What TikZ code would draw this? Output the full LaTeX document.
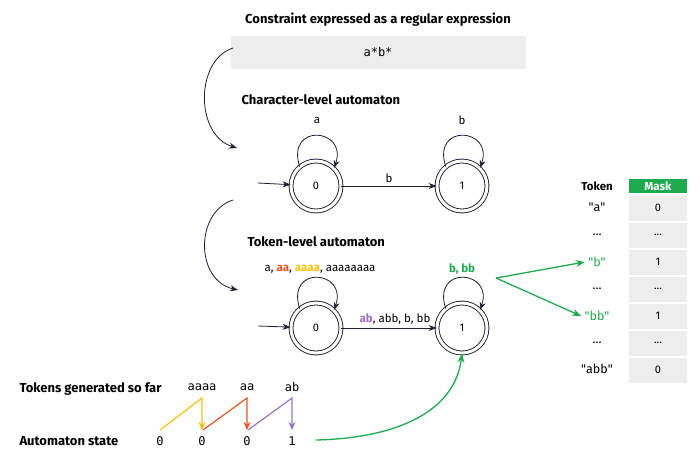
\documentclass[tikz,border=0pt]{standalone}
\usepackage{fontspec}
\setmainfont{Fira Sans}
\newfontfamily\monof{DejaVu Sans Mono}
\usetikzlibrary{arrows.meta}
\definecolor{gr}{HTML}{1EAA4E}
\definecolor{yl}{HTML}{F9C20A}
\definecolor{orn}{HTML}{F4511E}
\definecolor{pu}{HTML}{9575CD}
\definecolor{ink}{HTML}{1E1E32}
\definecolor{cellg}{HTML}{EDEDED}
\newcommand{\qq}[1]{\textquotedbl#1\textquotedbl}
\begin{document}
\begin{tikzpicture}[x=1pt,y=-1pt,
  ttl/.style={font=\bfseries\fontsize{13}{15}\selectfont,anchor=west,text=black},
  st/.style={circle,draw=ink,double=white,double distance=3pt,minimum size=50pt,inner sep=0pt,font=\fontsize{11}{13}\selectfont,line width=0.9pt},
  ar/.style={-{Stealth[length=8pt,width=6pt]},draw=ink,line width=0.8pt},
  lab/.style={font=\fontsize{11.5}{13}\selectfont},
  mono/.style={font=\monof\fontsize{12}{14}\selectfont},
  cell/.style={fill=cellg,minimum width=58pt,minimum height=25pt,inner sep=0pt,font=\fontsize{11}{13}\selectfont},
  tok/.style={font=\fontsize{12.5}{14}\selectfont},
  garr/.style={-{Stealth[length=9pt,width=7pt]},draw=gr,line width=1.3pt},
  loop/.style={ar,to path={.. controls +(-14,-44) and +(14,-40) .. (\tikztotarget)}}]
\useasboundingbox (0,0) rectangle (700,456);
\node[ttl,anchor=center] (t1) at (378,20) {Constraint expressed as a regular expression};
\node[fill=cellg,minimum width=295pt,minimum height=33pt,inner sep=0pt,mono] (re) at (378,52) {a*b*};
\node[ttl] (t2) at (238,100) {Character-level automaton};
\node[st] (c0) at (316,186) {0};
\node[st] (c1) at (462,186) {1};
\coordinate (cin) at (258,183);
\draw[ar] (cin) -- (c0);
\draw[ar] (c0) -- node[lab,above]{b} (c1);
\draw[loop] (c0.130) to (c0.45);
\draw[loop] (c1.130) to (c1.45);
\node[lab] (la) at (317,120) {a};
\node[lab] (lb) at (462,120) {b};
\coordinate (r1) at (233,48);
\coordinate (r2) at (237,148);
\draw[ar] (r1) .. controls (195,60) and (195,135) .. (r2);
\node[ttl] (t3) at (244,242) {Token-level automaton};
\coordinate (r3) at (233,200);
\coordinate (r4) at (238,290);
\draw[ar] (r3) .. controls (195,212) and (195,280) .. (r4);
\node[st] (k0) at (316,328) {0};
\node[st] (k1) at (462,328) {1};
\coordinate (kin) at (258,326);
\draw[ar] (kin) -- (k0);
\draw[ar] (k0) -- node[lab,above,xshift=6pt]{\textcolor{pu}{\bfseries ab}, abb, b, bb} (k1);
\draw[loop] (k0.130) to (k0.45);
\draw[loop] (k1.130) to (k1.45);
\node[lab] (lk0) at (320,269) {a, \textcolor{orn}{\bfseries aa}, \textcolor{yl}{\bfseries aaaa}, aaaaaaaa};
\node[lab,text=gr,font=\bfseries\fontsize{11.5}{13}\selectfont] (lk1) at (462,269) {b, bb};
% table
\node[font=\bfseries\fontsize{11.5}{13}\selectfont] (th) at (597,186) {Token};
\node[fill=gr,text=white,minimum width=58pt,minimum height=14pt,inner sep=0pt,font=\bfseries\fontsize{11.5}{13}\selectfont] (mh) at (658,186) {Mask};
\node[tok] (ta) at (597,207) {\qq{a}};
\node[cell] (ma) at (658,208) {0};
\node[tok] (td1) at (597,235) {...};
\node[cell] (md1) at (658,235) {...};
\node[tok,text=gr] (tb) at (597,262) {\qq{b}};
\node[cell] (mb) at (658,262) {1};
\node[tok] (td2) at (597,289) {...};
\node[cell] (md2) at (658,289) {...};
\node[tok,text=gr] (tbb) at (597,316) {\qq{bb}};
\node[cell] (mbb) at (658,316) {1};
\node[tok] (td3) at (597,343) {...};
\node[cell] (md3) at (658,343) {...};
\node[tok] (tabb) at (597,369) {\qq{abb}};
\node[cell] (mabb) at (658,370) {0};
\coordinate (gs) at (496,278);
\draw[garr] (gs) -- (tb.west);
\draw[garr] (gs) -- (tbb.west);
% bottom
\node[ttl] (t4) at (16,389) {Tokens generated so far};
\node[ttl] (t5) at (16,441) {Automaton state};
\node[mono] (w1) at (202,387) {aaaa};
\node[mono] (w2) at (247,387) {aa};
\node[mono] (w3) at (292,387) {ab};
\node[mono] (s0) at (160,441) {0};
\node[mono] (s1) at (202,441) {0};
\node[mono] (s2) at (247,441) {0};
\node[mono] (s3) at (292,441) {1};
\draw[yl,line width=1.2pt,-{Stealth[length=8pt,width=7pt]}] (160,430) -- (202,398) -- (202,430);
\draw[orn,line width=1.2pt,-{Stealth[length=8pt,width=7pt]}] (203,430) -- (247,398) -- (247,430);
\draw[pu,line width=1.2pt,-{Stealth[length=8pt,width=7pt]}] (248,430) -- (292,398) -- (292,430);
\coordinate (gq) at (316,440);
\draw[garr] (gq) .. controls (400,438) and (455,410) .. (k1.south);
\end{tikzpicture}
\end{document}
